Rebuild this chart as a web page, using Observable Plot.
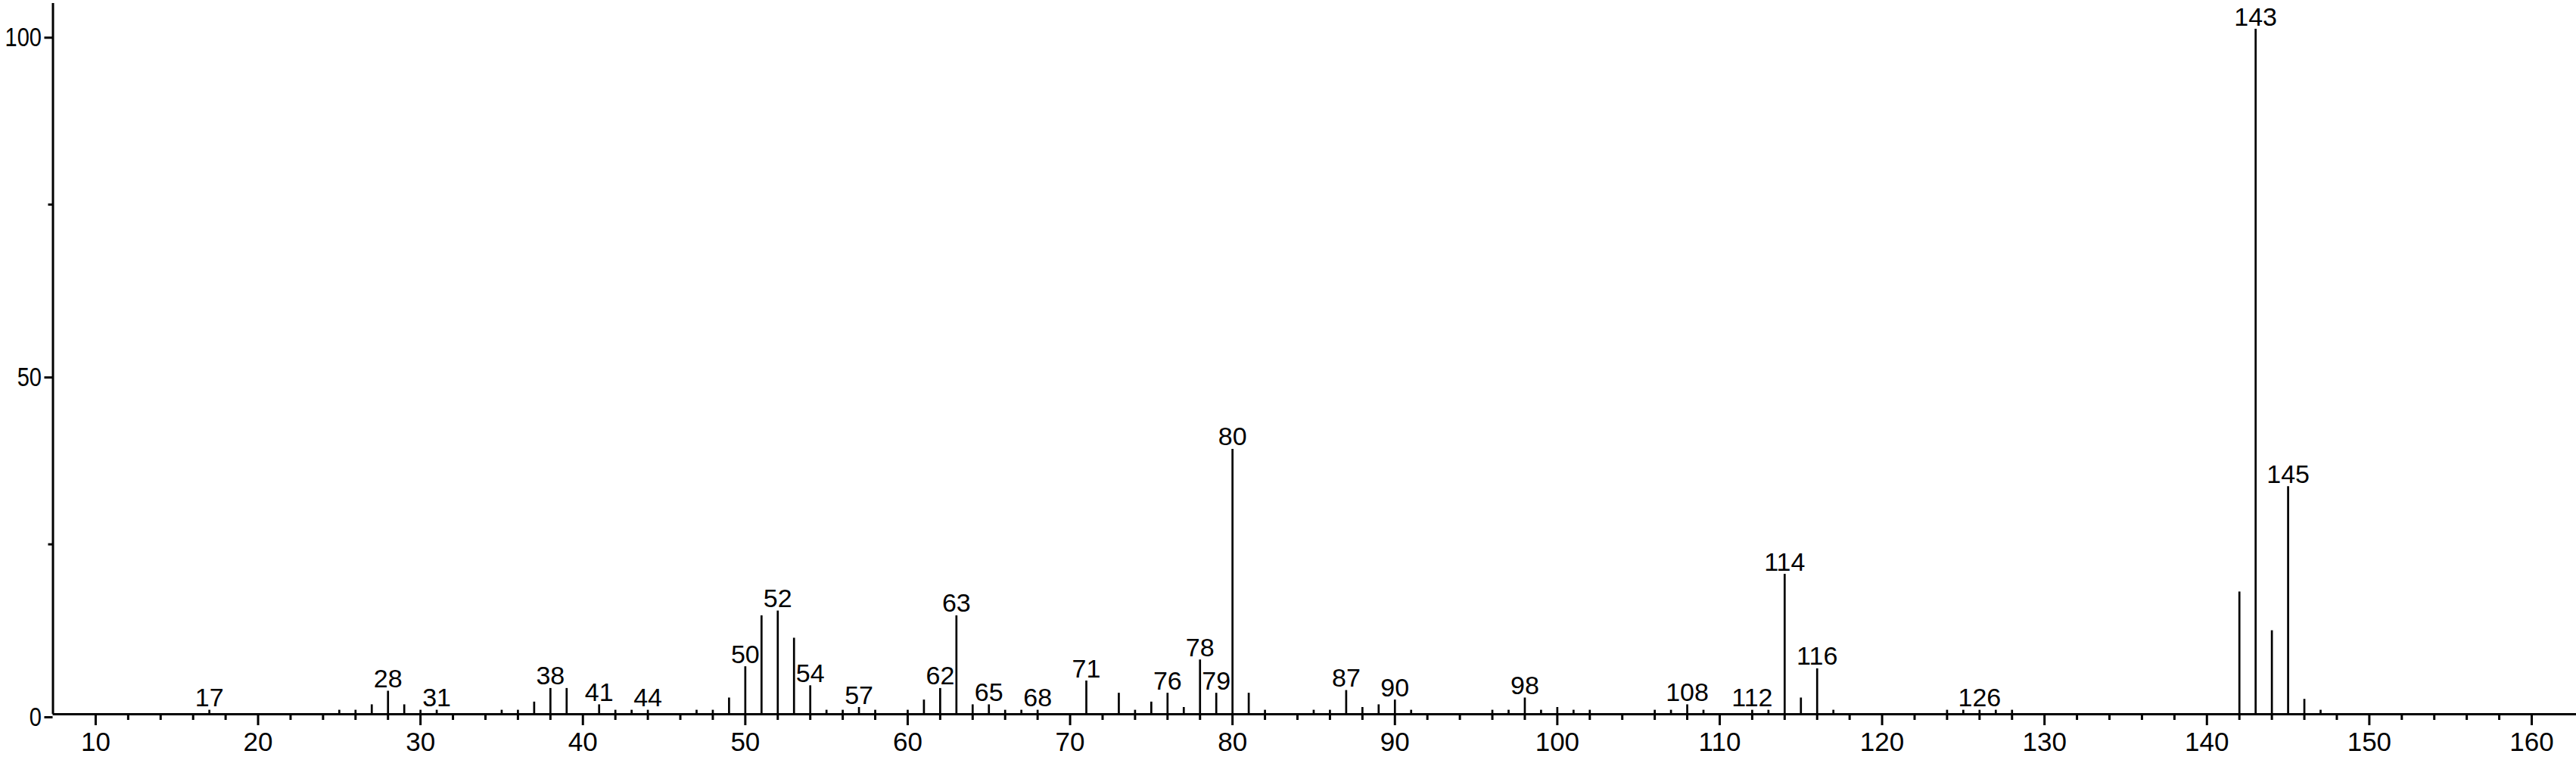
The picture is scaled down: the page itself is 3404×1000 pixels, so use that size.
<!DOCTYPE html>
<html><head><meta charset="utf-8">
<script src="https://cdn.jsdelivr.net/npm/d3@7"></script>
<script src="https://cdn.jsdelivr.net/npm/@observablehq/plot@0.6"></script>
<style>html,body{margin:0;padding:0;background:#fff}</style>
</head><body><div id="chart"></div>
<script>
const mz = [17,25,26,27,28,29,30,31,35,36,37,38,39,41,42,43,44,47,48,49,50,51,52,53,54,55,56,57,58,60,61,62,63,64,65,66,67,68,71,73,74,75,76,77,78,79,80,81,82,85,86,87,88,89,90,91,96,97,98,99,100,101,102,106,107,108,109,112,113,114,115,116,117,124,125,126,127,128,142,143,144,145,146,147];
const intensity = [0.6,0.6,0.6,1.4,3.4,1.4,0.6,0.6,0.6,0.6,1.8,3.8,3.8,1.4,0.6,0.6,0.6,0.6,0.6,2.4,7.0,14.5,15.2,11.2,4.2,0.6,0.6,1.0,0.6,0.6,2.1,3.8,14.5,1.4,1.4,0.6,0.6,0.6,4.9,3.1,0.6,1.8,3.1,1.0,8.0,3.1,39.0,3.1,0.6,0.6,0.6,3.5,1.0,1.4,2.1,0.6,0.6,0.6,2.4,0.6,1.0,0.6,0.6,0.6,0.6,1.4,0.6,0.6,0.6,20.6,2.4,6.7,0.6,0.6,0.6,0.6,0.6,0.6,18.0,100.8,12.3,33.5,2.2,0.6];
const labeledMz = [17,28,31,38,41,44,50,52,54,57,62,63,65,68,71,76,78,79,80,87,90,98,108,112,114,116,126,143,145];
const xMajorTicks = [10,20,30,40,50,60,70,80,90,100,110,120,130,140,150,160];
const xMinorTicks = [12,14,16,18,22,24,26,28,32,34,36,38,42,44,46,48,52,54,56,58,62,64,66,68,72,74,76,78,82,84,86,88,92,94,96,98,102,104,106,108,112,114,116,118,122,124,126,128,132,134,136,138,142,144,146,148,152,154,156,158];
const yMajorTicks = [0,50,100];
const yMinorTicks = [25,75];
const xDomain = [7.37, 162.75];
const yDomain = [0, 104.6];

const peaks = mz.map((m, i) => ({mz: m, intensity: intensity[i]}));
const labels = peaks.filter(d => labeledMz.includes(d.mz));
const font = "'Liberation Sans', Arial, Helvetica, sans-serif";

const chart = Plot.plot({
  width: 3404, height: 1000,
  marginLeft: 69.5, marginRight: 0, marginTop: 4, marginBottom: 57,
  x: {domain: xDomain, label: null},
  y: {domain: yDomain, label: null},
  style: {fontFamily: font, color: "#000", background: "#fff"},
  marks: [
    Plot.axisX({ticks: xMajorTicks, tickSize: 15, tickPadding: 9, fontSize: 35, strokeWidth: 3, label: null, tickFormat: d => String(d)}),
    Plot.axisX({ticks: xMinorTicks, tickSize: 8, text: null, strokeWidth: 3, label: null}),
    Plot.axisY({ticks: yMajorTicks, tickSize: 11, tickPadding: 4, fontSize: 35, dy: 4, strokeWidth: 3, label: null, tickFormat: d => String(d)}),
    Plot.axisY({ticks: yMinorTicks, tickSize: 6, text: null, strokeWidth: 3, label: null}),
    Plot.ruleY([0], {strokeWidth: 3}),
    Plot.ruleX([xDomain[0]], {strokeWidth: 3}),
    Plot.ruleX(peaks, {x: "mz", y1: 0, y2: "intensity", strokeWidth: 2.7}),
    Plot.text(labels, {x: "mz", y: "intensity", text: d => String(d.mz), lineAnchor: "bottom", dy: -5, fontSize: 34, fill: "#000"})
  ]
});
// the reference's y tick labels use a narrower face: compress them horizontally around their anchor
chart.querySelectorAll('g[aria-label="y-axis tick label"] text').forEach(t => {
  const tr = t.getAttribute("transform");
  if (tr) t.setAttribute("transform", tr + " scale(0.83,1)");
});
document.getElementById("chart").appendChild(chart);
</script>
</body></html>
